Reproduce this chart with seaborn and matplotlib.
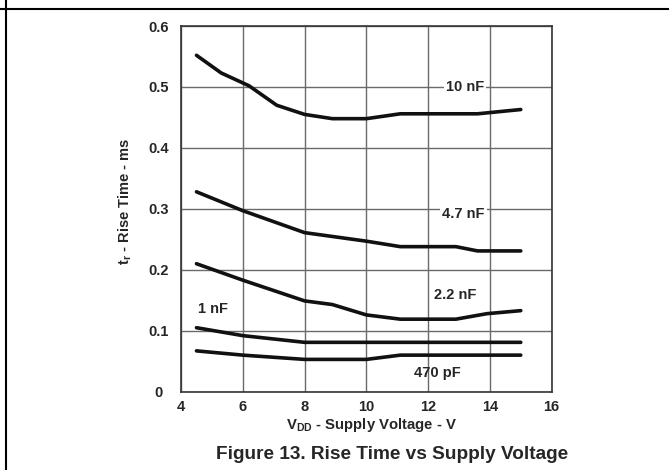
import matplotlib
matplotlib.use("Agg")
import matplotlib.pyplot as plt
import numpy as np
import pandas as pd
import seaborn as sns
from matplotlib.lines import Line2D

# values (supply voltage in V, rise time in ms)
volts_10nf = [4.5, 5.3, 6.2, 7.1, 8.0, 8.9, 10.0, 11.1, 13.6, 15.0]
rise_10nf = [0.552, 0.523, 0.502, 0.470, 0.455, 0.448, 0.448, 0.456, 0.456, 0.463]

volts_4n7f = [4.5, 6.0, 8.0, 10.0, 11.1, 12.9, 13.6, 15.0]
rise_4n7f = [0.328, 0.297, 0.261, 0.247, 0.238, 0.238, 0.231, 0.231]

volts_2n2f = [4.5, 6.0, 8.0, 8.9, 10.0, 11.1, 12.9, 13.9, 15.0]
rise_2n2f = [0.210, 0.183, 0.149, 0.143, 0.126, 0.119, 0.119, 0.128, 0.133]

volts_1nf = [4.5, 6.0, 8.0, 15.0]
rise_1nf = [0.105, 0.092, 0.081, 0.081]

volts_470pf = [4.5, 6.0, 8.0, 10.0, 11.1, 15.0]
rise_470pf = [0.067, 0.060, 0.053, 0.053, 0.060, 0.060]

series = {
    "10 nF": (volts_10nf, rise_10nf),
    "4.7 nF": (volts_4n7f, rise_4n7f),
    "2.2 nF": (volts_2n2f, rise_2n2f),
    "1 nF": (volts_1nf, rise_1nf),
    "470 pF": (volts_470pf, rise_470pf),
}

x_ticks = [4, 6, 8, 10, 12, 14, 16]
y_ticks = [0, 0.1, 0.2, 0.3, 0.4, 0.5, 0.6]
y_tick_labels = ["0", "0.1", "0.2", "0.3", "0.4", "0.5", "0.6"]

frames = []
for name, (vx, vy) in series.items():
    frames.append(pd.DataFrame({"vdd": vx, "tr": vy, "load": name}))
data = pd.concat(frames, ignore_index=True)

sns.set_style("white")
plt.rcParams["font.family"] = ["Liberation Sans", "DejaVu Sans"]
plt.rcParams["font.weight"] = "bold"
plt.rcParams["mathtext.fontset"] = "custom"
plt.rcParams["mathtext.rm"] = "Liberation Sans:bold"
plt.rcParams["mathtext.bf"] = "Liberation Sans:bold"

fig = plt.figure(figsize=(6.69, 4.70), dpi=100)
ax = fig.add_axes([0.2706, 0.1666, 0.554, 0.778])

sns.lineplot(
    data=data,
    x="vdd",
    y="tr",
    hue="load",
    units="load",
    estimator=None,
    sort=False,
    palette=["#111111"] * len(series),
    linewidth=2.6,
    legend=False,
    ax=ax,
    zorder=3,
)

ax.set_xlim(4, 16)
ax.set_ylim(0, 0.6)
ax.set_xticks(x_ticks)
ax.set_yticks(y_ticks)
ax.set_yticklabels(y_tick_labels)
ax.grid(True, color="#6a6a6a", linewidth=1.0)
ax.set_axisbelow(True)
for side in ["left", "bottom", "top", "right"]:
    ax.spines[side].set_color("#333333")
    ax.spines[side].set_linewidth(1.2)
ax.tick_params(axis="both", length=0, labelsize=10.5)
ax.tick_params(axis="x", pad=6)
ax.tick_params(axis="y", pad=16)
for lbl in ax.get_yticklabels():
    lbl.set_horizontalalignment("center")
    lbl.set_fontweight("bold")
for lbl in ax.get_xticklabels():
    lbl.set_fontweight("bold")

ax.set_xlabel("")
ax.set_ylabel(r"t$_{\mathrm{r}}$ - Rise Time - ms", fontsize=10.5, fontweight="bold")
ax.yaxis.set_label_coords(-0.127, 0.52)

# curve labels
lbl_size = 10.5
ax.text(13.2, 0.5, "10 nF", fontsize=lbl_size, fontweight="bold", ha="center", va="center",
        bbox=dict(facecolor="white", edgecolor="none", pad=1.5), zorder=4)
ax.text(13.15, 0.292, "4.7 nF", fontsize=lbl_size, fontweight="bold", ha="center", va="center",
        bbox=dict(facecolor="white", edgecolor="none", pad=1.5), zorder=4)
ax.text(12.87, 0.159, "2.2 nF", fontsize=lbl_size, fontweight="bold", ha="center", va="center", zorder=4)
ax.text(5.05, 0.135, "1 nF", fontsize=lbl_size, fontweight="bold", ha="center", va="center", zorder=4)
ax.text(12.3, 0.030, "470 pF", fontsize=lbl_size, fontweight="bold", ha="center", va="center", zorder=4)

fig.text(0.556, 0.096, r"V$_{\mathrm{DD}}$ - Supply Voltage - V", fontsize=10.7,
         fontweight="bold", ha="center", va="center")
fig.text(0.586, 0.032, "Figure 13. Rise Time vs Supply Voltage", fontsize=13.7,
         fontweight="bold", ha="center", va="center")

# page border lines
fig.add_artist(Line2D([6.4 / 669, 6.4 / 669], [0, 1], color="black", linewidth=1.5,
                      transform=fig.transFigure))
fig.add_artist(Line2D([0, 1], [1 - 9.4 / 470, 1 - 9.4 / 470], color="black", linewidth=1.5,
                      transform=fig.transFigure))

fig.savefig("out.png", dpi=100)
